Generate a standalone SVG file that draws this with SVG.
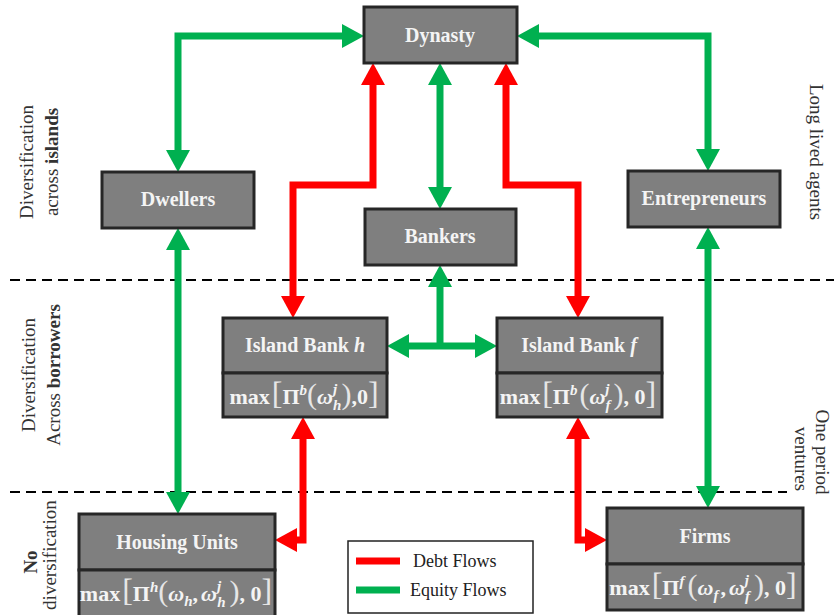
<svg xmlns="http://www.w3.org/2000/svg" width="834" height="615" viewBox="0 0 834 615" font-family="Liberation Serif, serif">
<style>
.box{fill:#7f7f7f;stroke:#262626;stroke-width:3}
.lbl{font-weight:bold;font-size:20px;fill:#f4f4f4;text-anchor:middle}
.math{font-weight:bold;font-size:22px;fill:#f4f4f4;text-anchor:middle}
.br{font-weight:normal;font-size:32px;fill:#e6e6e6}
.pa{font-weight:normal;font-size:30px;fill:#e6e6e6}
.it{font-style:italic}
.sc{font-style:italic;font-size:15px}
.side{font-size:19px;fill:#333;text-anchor:middle}
.g{fill:none;stroke:#00b050;stroke-width:7}
.r{fill:none;stroke:#ff0000;stroke-width:7}
.dash{stroke:#000;stroke-width:2;stroke-dasharray:10 6}
</style>
<defs>
<marker id="ag" markerUnits="userSpaceOnUse" markerWidth="22" markerHeight="24" refX="11" refY="12" orient="auto-start-reverse" viewBox="0 0 22 24"><path d="M0,0 L22,12 L0,24 z" fill="#00b050"/></marker>
<marker id="ar" markerUnits="userSpaceOnUse" markerWidth="22" markerHeight="24" refX="11" refY="12" orient="auto-start-reverse" viewBox="0 0 22 24"><path d="M0,0 L22,12 L0,24 z" fill="#ff0000"/></marker>
</defs>
<rect width="834" height="615" fill="#fff"/>
<g id="dividers">
<line class="dash" x1="10" y1="280" x2="834" y2="280"/>
<line class="dash" x1="10" y1="492" x2="787" y2="492"/>
</g>
<g id="connectors">
<path class="g" d="M178,161 L178,36 L353,36" marker-start="url(#ag)" marker-end="url(#ag)"/>
<path class="g" d="M708,160 L708,36 L528,36" marker-start="url(#ag)" marker-end="url(#ag)"/>
<path class="g" d="M440,74 L440,198" marker-start="url(#ag)" marker-end="url(#ag)"/>
<path class="r" d="M373,74 L373,185 L293,185 L293,307" marker-start="url(#ar)" marker-end="url(#ar)"/>
<path class="r" d="M506,74 L506,185 L578,185 L578,307" marker-start="url(#ar)" marker-end="url(#ar)"/>
<path class="g" d="M440,276 L440,346" marker-start="url(#ag)"/>
<path class="g" d="M398,346 L486,346" marker-start="url(#ag)" marker-end="url(#ag)"/>
<path class="g" d="M178,239 L178,503" marker-start="url(#ag)" marker-end="url(#ag)"/>
<path class="g" d="M708,238 L708,497" marker-start="url(#ag)" marker-end="url(#ag)"/>
<path class="r" d="M303,428 L303,540 L286,540" marker-start="url(#ar)" marker-end="url(#ar)"/>
<path class="r" d="M578,428 L578,540 L596,540" marker-start="url(#ar)" marker-end="url(#ar)"/>
</g>
<g id="dynasty"><rect class="box" x="364" y="7" width="153" height="56"/><text class="lbl" x="440" y="42">Dynasty</text></g>
<g id="dwellers"><rect class="box" x="102" y="172" width="152" height="56"/><text class="lbl" x="178" y="206">Dwellers</text></g>
<g id="entrepreneurs"><rect class="box" x="628" y="171" width="152" height="56"/><text class="lbl" x="704" y="205">Entrepreneurs</text></g>
<g id="bankers"><rect class="box" x="365" y="209" width="151" height="56"/><text class="lbl" x="440" y="243">Bankers</text></g>
<g id="island-bank-h">
<rect class="box" x="223" y="318" width="164" height="55"/><rect class="box" x="223" y="373" width="164" height="44"/>
<text class="lbl" x="305" y="352">Island Bank <tspan class="it">h</tspan></text>
<text class="math" x="304" y="404">max<tspan class="br" dx="2">[</tspan>Π<tspan class="sc" dy="-9">b</tspan><tspan class="pa" dy="9">(</tspan><tspan class="it">ω</tspan><tspan class="sc" dy="-10">j</tspan><tspan class="sc" dx="-4" dy="16">h</tspan><tspan class="pa" dy="-6">)</tspan>,0<tspan class="br">]</tspan></text>
</g>
<g id="island-bank-f">
<rect class="box" x="497" y="318" width="165" height="55"/><rect class="box" x="497" y="373" width="165" height="44"/>
<text class="lbl" x="579" y="352">Island Bank <tspan class="it">f</tspan></text>
<text class="math" x="578" y="404">max<tspan class="br" dx="2">[</tspan>Π<tspan class="sc" dy="-9">b</tspan><tspan class="pa" dy="9" dx="2">(</tspan><tspan class="it">ω</tspan><tspan class="sc" dy="-10">j</tspan><tspan class="sc" dx="-4" dy="16">f</tspan><tspan class="pa" dy="-6" dx="3">)</tspan>, 0<tspan class="br">]</tspan></text>
</g>
<g id="housing-units">
<rect class="box" x="79" y="514" width="196" height="56"/><rect class="box" x="79" y="570" width="196" height="55"/>
<text class="lbl" x="177" y="549">Housing Units</text>
<text class="math" x="176" y="601">max<tspan class="br" dx="2">[</tspan>Π<tspan class="sc" dy="-9">h</tspan><tspan class="pa" dy="9">(</tspan><tspan class="it">ω</tspan><tspan class="sc" dy="5">h</tspan><tspan dy="-5">,</tspan><tspan class="it" dx="3">ω</tspan><tspan class="sc" dy="-10">j</tspan><tspan class="sc" dx="-4" dy="16">h</tspan><tspan class="pa" dy="-6" dx="4">)</tspan>, 0<tspan class="br">]</tspan></text>
</g>
<g id="firms">
<rect class="box" x="607" y="508" width="196" height="56"/><rect class="box" x="607" y="564" width="196" height="46"/>
<text class="lbl" x="705" y="543">Firms</text>
<text class="math" x="703" y="595">max<tspan class="br" dx="2">[</tspan>Π<tspan class="sc" dy="-9">f</tspan><tspan class="pa" dy="9" dx="3">(</tspan><tspan class="it">ω</tspan><tspan class="sc" dy="5">f</tspan><tspan dy="-5" dx="2">,</tspan><tspan class="it" dx="3">ω</tspan><tspan class="sc" dy="-10">j</tspan><tspan class="sc" dx="-4" dy="16">f</tspan><tspan class="pa" dy="-6" dx="4">)</tspan>, 0<tspan class="br">]</tspan></text>
</g>
<g id="legend">
<rect x="348" y="541" width="185" height="72" fill="#fff" stroke="#222" stroke-width="1.5"/>
<line x1="356" y1="561" x2="400" y2="561" stroke="#ff0000" stroke-width="7"/>
<line x1="356" y1="590" x2="400" y2="590" stroke="#00b050" stroke-width="7"/>
<text x="413" y="567" font-size="18" fill="#222">Debt Flows</text>
<text x="410" y="596" font-size="18" fill="#222">Equity Flows</text>
</g>
<g id="side-labels">
<text class="side" transform="translate(33,162) rotate(-90)">Diversification</text>
<text class="side" transform="translate(58,162) rotate(-90)">across <tspan font-weight="bold">islands</tspan></text>
<text class="side" transform="translate(35,375) rotate(-90)">Diversification</text>
<text class="side" transform="translate(60,375) rotate(-90)">Across <tspan font-weight="bold">borrowers</tspan></text>
<text class="side" font-weight="bold" transform="translate(37,562) rotate(-90)">No</text>
<text class="side" font-size="18" transform="translate(56,555) rotate(-90)">diversification</text>
<text class="side" transform="translate(810,152) rotate(90)">Long lived agents</text>
<text class="side" transform="translate(816,452) rotate(90)">One period</text>
<text class="side" transform="translate(795,459) rotate(90)">ventures</text>
</g>
</svg>
